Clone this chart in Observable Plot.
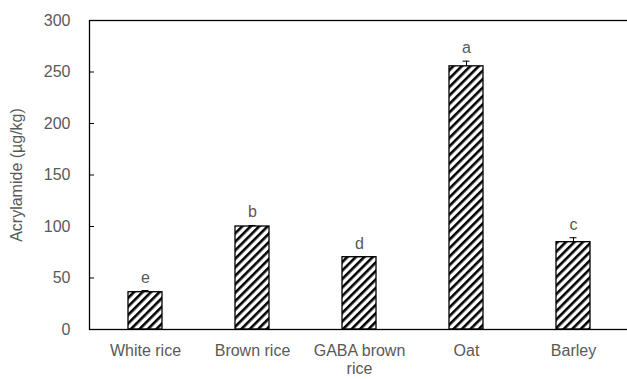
<!DOCTYPE html>
<html>
<head>
<meta charset="utf-8">
<script src="https://cdn.jsdelivr.net/npm/d3@7"></script>
<script src="https://cdn.jsdelivr.net/npm/@observablehq/plot@0.6"></script>
<style>
  html, body { margin: 0; padding: 0; background: #fff; }
</style>
</head>
<body>
<div id="chart"></div>
<script>
const categories = ["White rice", "Brown rice", "GABA brown rice", "Oat", "Barley"];
const values = [36.2, 100, 70.2, 255.5, 84.8];
const errors = [1.6, 1, 0.6, 5, 4.3];
const letters = ["e", "b", "d", "a", "c"];
const yTicks = [0, 50, 100, 150, 200, 250, 300];
const tickLabels = {"GABA brown rice": "GABA brown\nrice"};

const data = categories.map((c, i) => ({category: c, value: values[i], err: errors[i], letter: letters[i]}));

const defs = () => {
  const ns = "http://www.w3.org/2000/svg";
  const g = document.createElementNS(ns, "defs");
  const p = document.createElementNS(ns, "pattern");
  p.setAttribute("id", "hatch");
  p.setAttribute("patternUnits", "userSpaceOnUse");
  p.setAttribute("width", "6");
  p.setAttribute("height", "6");
  p.setAttribute("patternTransform", "rotate(45)");
  const bg = document.createElementNS(ns, "rect");
  bg.setAttribute("width", "6"); bg.setAttribute("height", "6"); bg.setAttribute("fill", "#fff");
  const r = document.createElementNS(ns, "rect");
  r.setAttribute("width", "2.6"); r.setAttribute("height", "6"); r.setAttribute("fill", "#000");
  p.appendChild(bg); p.appendChild(r);
  g.appendChild(p);
  return g;
};

const chart = Plot.plot({
  width: 627,
  height: 379,
  marginLeft: 89,
  marginRight: -2,
  marginTop: 20,
  marginBottom: 50,
  style: {fontFamily: "'Liberation Sans', Arial, sans-serif", fontSize: "16px", color: "#595959", background: "#fff"},
  x: {domain: categories, paddingInner: 0.685, paddingOuter: 0.3426, label: null},
  y: {domain: [0, 300], label: null},
  marks: [
    defs,
    Plot.barY(data, {x: "category", y: "value", fill: "url(#hatch)", stroke: "#000", strokeWidth: 1.3}),
    Plot.ruleX(data, {x: "category", y1: "value", y2: d => d.value + d.err, stroke: "#000", strokeWidth: 1}),
    Plot.tickY(data, {x: "category", y: d => d.value + d.err, stroke: "#000", strokeWidth: 1, insetLeft: 13.5, insetRight: 13.5}),
    Plot.text(data, {x: "category", y: d => d.value + d.err, text: "letter", lineAnchor: "bottom", dy: -8, fill: "#595959", fontSize: 16}),
    Plot.axisY({ticks: yTicks, tickSize: -5, tickPadding: 24, stroke: "#000", fill: "#595959",
      label: "Acrylamide (µg/kg)", labelAnchor: "center", labelOffset: 79, labelArrow: "none"}),
    Plot.axisX({tickSize: 0, tickPadding: 13, tickFormat: d => tickLabels[d] ?? d, lineHeight: 1.15, fill: "#595959", label: null}),
    Plot.frame({stroke: "#000", strokeWidth: 1.3})
  ]
});
document.getElementById("chart").appendChild(chart);
</script>
</body>
</html>
